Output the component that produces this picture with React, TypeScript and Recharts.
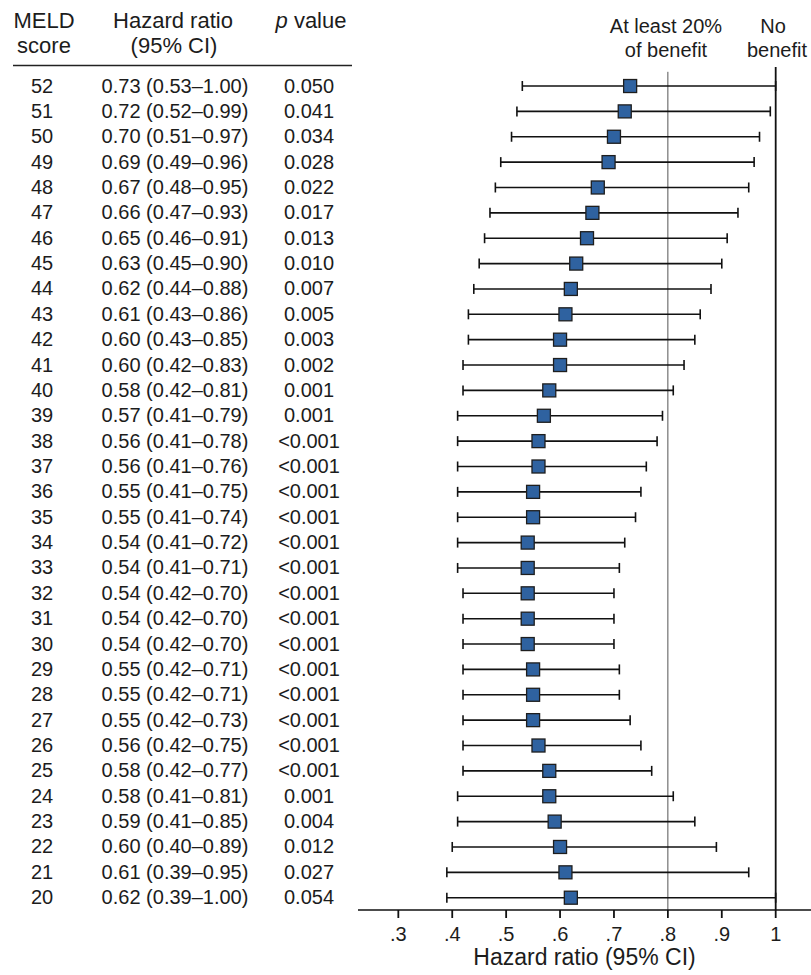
import React from 'react';
import { ScatterChart, Scatter, XAxis, YAxis, ErrorBar, ReferenceLine } from 'recharts';

const scores = [52, 51, 50, 49, 48, 47, 46, 45, 44, 43, 42, 41, 40, 39, 38, 37, 36, 35, 34, 33, 32, 31, 30, 29, 28, 27, 26, 25, 24, 23, 22, 21, 20];
const hazard = [0.73, 0.72, 0.70, 0.69, 0.67, 0.66, 0.65, 0.63, 0.62, 0.61, 0.60, 0.60, 0.58, 0.57, 0.56, 0.56, 0.55, 0.55, 0.54, 0.54, 0.54, 0.54, 0.54, 0.55, 0.55, 0.55, 0.56, 0.58, 0.58, 0.59, 0.60, 0.61, 0.62];
const lower = [0.53, 0.52, 0.51, 0.49, 0.48, 0.47, 0.46, 0.45, 0.44, 0.43, 0.43, 0.42, 0.42, 0.41, 0.41, 0.41, 0.41, 0.41, 0.41, 0.41, 0.42, 0.42, 0.42, 0.42, 0.42, 0.42, 0.42, 0.42, 0.41, 0.41, 0.40, 0.39, 0.39];
const upper = [1.00, 0.99, 0.97, 0.96, 0.95, 0.93, 0.91, 0.90, 0.88, 0.86, 0.85, 0.83, 0.81, 0.79, 0.78, 0.76, 0.75, 0.74, 0.72, 0.71, 0.70, 0.70, 0.70, 0.71, 0.71, 0.73, 0.75, 0.77, 0.81, 0.85, 0.89, 0.95, 1.00];
const pValues = ['0.050', '0.041', '0.034', '0.028', '0.022', '0.017', '0.013', '0.010', '0.007', '0.005', '0.003', '0.002', '0.001', '0.001', '<0.001', '<0.001', '<0.001', '<0.001', '<0.001', '<0.001', '<0.001', '<0.001', '<0.001', '<0.001', '<0.001', '<0.001', '<0.001', '<0.001', '0.001', '0.004', '0.012', '0.027', '0.054'];
const xTicks = [0.3, 0.4, 0.5, 0.6, 0.7, 0.8, 0.9, 1];

const rows = scores.map((score, i) => ({
  score,
  hr: hazard[i],
  lo: lower[i],
  hi: upper[i],
  p: pValues[i],
  err: [hazard[i] - lower[i], upper[i] - hazard[i]],
}));

const FONT = '"Liberation Sans", Arial, Helvetica, sans-serif';
const INK = '#1c1c1c';

const fmt2 = (v: number) => v.toFixed(2);

// left-hand table, drawn as the y-axis ticks so rows follow the axis scale
const TableRow = (props: any) => {
  const { y, payload } = props;
  const row = rows.find((r) => r.score === payload.value);
  if (!row) return null;
  const base = y + 6.5;
  return (
    <g fontFamily={FONT} fontSize={20} fill={INK}>
      <text x={42} y={base} textAnchor="middle">{row.score}</text>
      <text x={175} y={base} textAnchor="middle">
        {`${fmt2(row.hr)} (${fmt2(row.lo)}\u2013${fmt2(row.hi)})`}
      </text>
      <text x={309} y={base} textAnchor="middle">{row.p}</text>
    </g>
  );
};

const Square = (props: any) => {
  const { cx, cy } = props;
  if (cx == null || cy == null) return null;
  return <rect x={cx - 6.5} y={cy - 6.5} width={13} height={13} fill="#2f62a0" stroke="#1e1e1e" strokeWidth={1.3} />;
};

const tickLabel = (v: number) => (v === 1 ? '1' : '.' + Math.round(v * 10));

export default function App() {
  return (
    <div style={{ position: 'absolute', left: 0, top: 0, width: 811, height: 975, background: '#fff' }}>
      <ScatterChart width={811} height={975} margin={{ top: 67, right: 0, bottom: 0, left: 0 }}>
        <XAxis
          type="number"
          dataKey="hr"
          domain={[0.2252, 1.0655]}
          allowDataOverflow
          ticks={xTicks}
          tickFormatter={tickLabel}
          interval={0}
          height={65}
          tickSize={8}
          tickMargin={9}
          axisLine={{ stroke: '#111', strokeWidth: 1.6 }}
          tickLine={{ stroke: '#111', strokeWidth: 1.8 }}
          tick={{ fontSize: 20, fill: INK, fontFamily: FONT }}
          label={{ value: 'Hazard ratio (95% CI)', position: 'insideBottom', offset: 10, fontSize: 23, fill: INK, fontFamily: FONT }}
        />
        <YAxis
          type="number"
          dataKey="score"
          domain={[19.515, 52.75]}
          allowDataOverflow
          ticks={scores}
          interval={0}
          width={358}
          axisLine={false}
          tickLine={false}
          tick={<TableRow />}
        />
        <ReferenceLine
          segment={[{ x: 0.8, y: 52.56 }, { x: 0.8, y: 19.515 }]}
          stroke="#555"
          strokeWidth={1}
        />
        <ReferenceLine x={1} stroke="#111" strokeWidth={1.8} />
        <Scatter data={rows} shape={<Square />} isAnimationActive={false}>
          <ErrorBar dataKey="err" direction="x" width={5} stroke="#111" strokeWidth={1.6} isAnimationActive={false} />
        </Scatter>
      </ScatterChart>
      <svg
        width={811}
        height={975}
        style={{ position: 'absolute', left: 0, top: 0, pointerEvents: 'none' }}
        fontFamily={FONT}
        fill={INK}
      >
        <g fontSize={22}>
          <text x={44} y={28} textAnchor="middle">MELD</text>
          <text x={44} y={53} textAnchor="middle">score</text>
          <text x={173} y={28} textAnchor="middle">Hazard ratio</text>
          <text x={174} y={53} textAnchor="middle">(95% CI)</text>
          <text x={311} y={28} textAnchor="middle">
            <tspan fontStyle="italic">p</tspan> value
          </text>
        </g>
        <line x1={13} x2={352} y1={65.5} y2={65.5} stroke="#222" strokeWidth={1.6} />
        <g fontSize={20}>
          <text x={666} y={33} textAnchor="middle">At least 20%</text>
          <text x={666} y={57} textAnchor="middle">of benefit</text>
          <text x={773} y={33} textAnchor="middle">No</text>
          <text x={777} y={57} textAnchor="middle">benefit</text>
        </g>
      </svg>
    </div>
  );
}
